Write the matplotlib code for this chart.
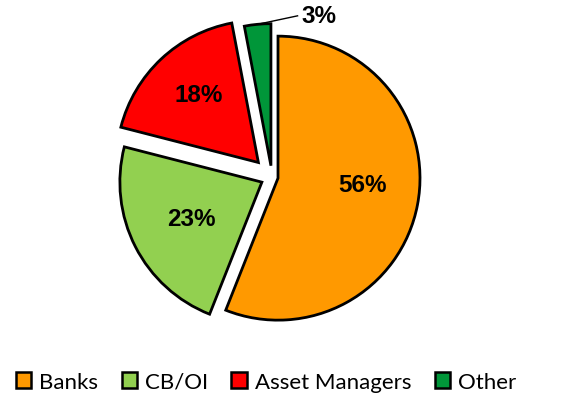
import numpy as np
import matplotlib
matplotlib.use("Agg")
import matplotlib.pyplot as plt

categories = ["Banks", "CB/OI", "Asset Managers", "Other"]
shares = [56, 23, 18, 3]
colors = ["#FF9900", "#92D050", "#FF0000", "#009639"]
explode = [0.043, 0.08, 0.14, 0.08]

W, H = 563, 406
CX, CY, R = 272, 178, 142          # pie centre / radius in pixels (from top)

fig = plt.figure(figsize=(W / 100, H / 100), dpi=100)
ax = fig.add_axes([0, 0, 1, 1])
wedges, _ = ax.pie(shares, colors=colors, explode=explode, startangle=90,
                   counterclock=False, radius=1,
                   wedgeprops=dict(edgecolor="black", linewidth=2))
ax.set_xlim(-CX / R, (W - CX) / R)
ax.set_ylim((CY - H) / R, CY / R)
ax.set_aspect("equal")
ax.axis("off")

# percentage labels (radius fraction, angle offset in degrees)
lab_r = [0.64, 0.64, 0.78]
lab_da = [6.0, 0.0, -1.5]
bold = dict(fontsize=17.5, fontweight="bold", family="Liberation Sans")
for w, v, r, da in zip(wedges[:3], shares[:3], lab_r, lab_da):
    a = np.deg2rad((w.theta1 + w.theta2) / 2 + da)
    ax.text(r * np.cos(a), r * np.sin(a), f"{v}%", ha="center", va="center", **bold)

# small slice: label outside with leader line
w = wedges[3]
a = np.deg2rad((w.theta1 + w.theta2) / 2)
x0 = (1 + explode[3]) * np.cos(a)
y0 = (1 + explode[3]) * np.sin(a)
ax.plot([x0, 0.18], [y0, 1.135], color="black", lw=1)
ax.text(0.205, 1.135, f"{shares[3]}%", ha="left", va="center", **bold)

handles = [plt.Rectangle((0, 0), 1, 1, fc=c, ec="black", lw=1.8) for c in colors]
fig.legend(handles, categories, loc="center", bbox_to_anchor=(266 / W, 1 - 383 / H),
           ncol=4, frameon=False, handlelength=0.7, handleheight=0.7,
           handletextpad=0.35, columnspacing=1.05,
           prop=dict(family="Lato", size=16))

fig.savefig("out.png", dpi=100)
